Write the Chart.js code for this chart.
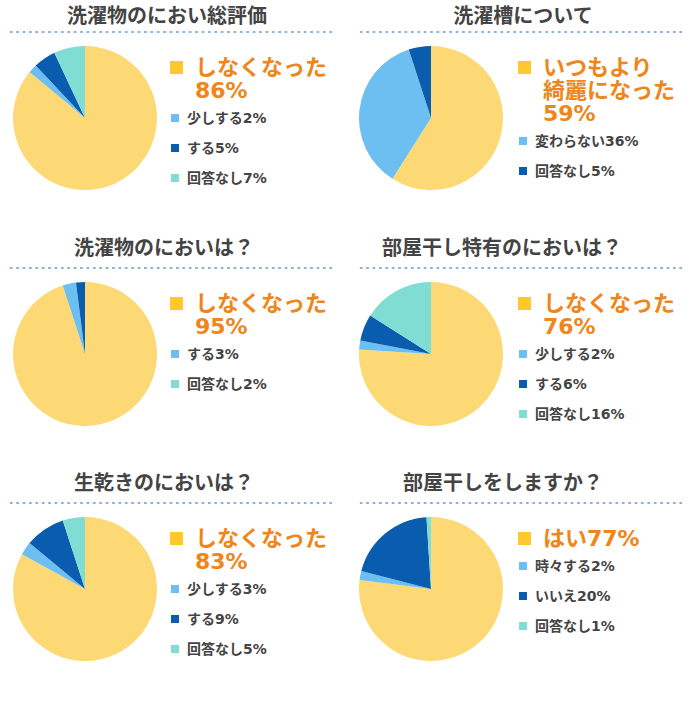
<!DOCTYPE html>
<html>
<head>
<meta charset="utf-8">
<script src="https://cdn.jsdelivr.net/npm/chart.js@4/dist/chart.umd.min.js"></script>
<style>
  body { margin: 0; background: #fff; font-family: "DejaVu Sans", "Noto Sans CJK JP", sans-serif; }
  #wrap { position: relative; width: 700px; height: 709px; }
  .title { position: absolute; font-size: 20px; font-weight: 700; color: #444; white-space: nowrap; transform: translate(-50%, -50%); line-height: 1; }
  .dots { position: absolute; height: 4px; width: 326px;
    background: radial-gradient(circle, #86aee0 1px, transparent 1.5px) repeat-x;
    background-size: 6.4px 4px; }
  .pie { position: absolute; }
  .legend { position: absolute; color: #444; }
  .big { position: relative; padding-left: 25px; font-size: 22px; font-weight: 700; line-height: 23px; color: #f08519; white-space: pre-line; }
  .big i { position: absolute; left: 0; top: 5px; width: 13px; height: 13px; background: #ffc82c; }
  .item { position: relative; padding-left: 17px; font-size: 14px; font-weight: 700; line-height: 30px; height: 30px; white-space: nowrap; }
  .item i { position: absolute; left: 1px; top: 11px; width: 8px; height: 8px; }
  .first { margin-top: 1.5px; }
</style>
</head>
<body>
<div id="wrap"></div>
<script>
// colours
const yellow = "#fdd975", lightBlue = "#6cbff0", darkBlue = "#0a5cae", teal = "#80ddd3";

// data, one chart each
const titles = [
  "洗濯物のにおい総評価", "洗濯槽について",
  "洗濯物のにおいは？", "部屋干し特有のにおいは？",
  "生乾きのにおいは？", "部屋干しをしますか？"
];
const labels1 = ["しなくなった", "少しする", "する", "回答なし"];
const values1 = [86, 2, 5, 7];
const labels2 = ["いつもより\n綺麗になった", "変わらない", "回答なし"];
const values2 = [59, 36, 5];
const labels3 = ["しなくなった", "する", "回答なし"];
const values3 = [95, 3, 2];
const labels4 = ["しなくなった", "少しする", "する", "回答なし"];
const values4 = [76, 2, 6, 16];
const labels5 = ["しなくなった", "少しする", "する", "回答なし"];
const values5 = [83, 3, 9, 5];
const labels6 = ["はい", "時々する", "いいえ", "回答なし"];
const values6 = [77, 2, 20, 1];

const charts = [
  { labels: labels1, values: values1, slice: [yellow, lightBlue, darkBlue, teal], keys: [yellow, lightBlue, darkBlue, teal] },
  { labels: labels2, values: values2, slice: [yellow, lightBlue, darkBlue], keys: [yellow, lightBlue, darkBlue] },
  { labels: labels3, values: values3, slice: [yellow, lightBlue, darkBlue], keys: [yellow, lightBlue, teal] },
  { labels: labels4, values: values4, slice: [yellow, lightBlue, darkBlue, teal], keys: [yellow, lightBlue, darkBlue, teal] },
  { labels: labels5, values: values5, slice: [yellow, lightBlue, darkBlue, teal], keys: [yellow, lightBlue, darkBlue, teal] },
  { labels: labels6, values: values6, slice: [yellow, lightBlue, darkBlue, teal], keys: [yellow, lightBlue, darkBlue, teal] }
];

// layout (absolute px)
const rows = [
  { titleY: 16, lineY: 30, pieY: 118 },
  { titleY: 248, lineY: 266, pieY: 354 },
  { titleY: 483, lineY: 501, pieY: 589 }
];
const cols = [
  { x: 0, pieX: 85 },
  { x: 350, pieX: 81 }
];
const titleX = [167, 173, 164, 152, 164, 153];
const R = 72;

const wrap = document.getElementById("wrap");

charts.forEach((c, i) => {
  const row = rows[Math.floor(i / 2)], col = cols[i % 2];

  const t = document.createElement("div");
  t.className = "title";
  t.textContent = titles[i];
  t.style.left = (col.x + titleX[i]) + "px";
  t.style.top = row.titleY + "px";
  wrap.appendChild(t);

  const d = document.createElement("div");
  d.className = "dots";
  d.style.left = (col.x + 8) + "px";
  d.style.top = row.lineY + "px";
  wrap.appendChild(d);

  const cv = document.createElement("canvas");
  cv.className = "pie";
  cv.width = R * 2;
  cv.height = R * 2;
  cv.style.left = (col.x + col.pieX - R) + "px";
  cv.style.top = (row.pieY - R) + "px";
  wrap.appendChild(cv);

  new Chart(cv, {
    type: "pie",
    data: {
      labels: c.labels,
      datasets: [{ data: c.values, backgroundColor: c.slice, borderWidth: 0 }]
    },
    options: {
      responsive: false,
      animation: false,
      layout: { padding: 0 },
      plugins: { legend: { display: false }, tooltip: { enabled: false } }
    }
  });

  const lg = document.createElement("div");
  lg.className = "legend";
  lg.style.left = (col.x + 170 - (i % 2) * 2) + "px";
  lg.style.top = (row.pieY - 62.5) + "px";
  c.labels.forEach((lab, k) => {
    const el = document.createElement("div");
    const txt = lab + (k === 0 && lab.length > 3 ? "\n" : "") + c.values[k] + "%";
    if (k === 0) {
      el.className = "big";
    } else {
      el.className = "item" + (k === 1 ? " first" : "");
    }
    const sq = document.createElement("i");
    sq.style.background = k === 0 ? "#ffc82c" : c.keys[k];
    el.appendChild(sq);
    el.appendChild(document.createTextNode(txt));
    lg.appendChild(el);
  });
  wrap.appendChild(lg);
});
</script>
</body>
</html>
